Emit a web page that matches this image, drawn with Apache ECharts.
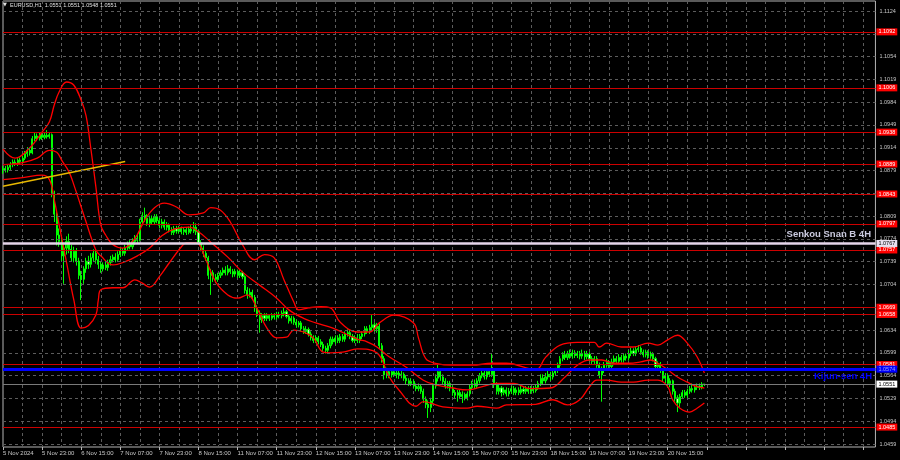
<!DOCTYPE html>
<html><head><meta charset="utf-8">
<script src="https://cdn.jsdelivr.net/npm/echarts@6/dist/echarts.min.js"></script>
<style>html,body{margin:0;padding:0;background:#000;}#c{width:900px;height:460px;}</style>
</head><body><div id="c"></div>
<script>
// ---- tick labels ----
const xTickLabels = ['5 Nov 2024','5 Nov 23:00','6 Nov 15:00','7 Nov 07:00','7 Nov 23:00','8 Nov 15:00',
  '11 Nov 07:00','11 Nov 23:00','12 Nov 15:00','13 Nov 07:00','13 Nov 23:00','14 Nov 15:00',
  '15 Nov 07:00','15 Nov 23:00','18 Nov 15:00','19 Nov 07:00','19 Nov 23:00','20 Nov 15:00'];
const yTickValues = [1.1124,1.1089,1.1054,1.1019,1.0984,1.0949,1.0914,1.0879,1.0844,1.0809,1.0774,
  1.0739,1.0704,1.0669,1.0634,1.0599,1.0564,1.0529,1.0494,1.0459];
// ---- horizontal levels ----
const redLevels = [1.1092,1.1006,1.0938,1.0889,1.0843,1.0797,1.0757,1.0669,1.0658,1.0581,1.0485];
const senkouB = 1.0767;
const kijun = 1.0574;
const lastPrice = 1.0551;
const titleText = 'EURUSD,H1  1.0551 1.0551 1.0548 1.0551';
// ---- H1 candles ----
const opens = [
1.0878,1.0882,1.0880,1.0884,1.0888,1.0892,1.0890,1.0895,1.0893,1.0898,
1.0905,1.0910,1.0906,1.0928,1.0932,1.0928,1.0934,1.0930,1.0933,1.0931,
1.0934,1.0842,1.0812,1.0780,1.0770,1.0748,1.0760,1.0770,1.0758,1.0745,
1.0755,1.0740,1.0718,1.0712,1.0728,1.0740,1.0735,1.0745,1.0752,1.0742,
1.0735,1.0728,1.0734,1.0730,1.0738,1.0742,1.0746,1.0742,1.0750,1.0756,
1.0752,1.0760,1.0766,1.0762,1.0770,1.0775,1.0772,1.0800,1.0810,1.0806,
1.0798,1.0805,1.0800,1.0808,1.0802,1.0795,1.0800,1.0792,1.0796,1.0788,
1.0784,1.0790,1.0786,1.0790,1.0785,1.0788,1.0784,1.0789,1.0786,1.0792,
1.0785,1.0768,1.0760,1.0752,1.0745,1.0718,1.0722,1.0715,1.0712,1.0718,
1.0722,1.0726,1.0722,1.0728,1.0724,1.0720,1.0724,1.0718,1.0722,1.0716,
1.0695,1.0688,1.0692,1.0684,1.0668,1.0660,1.0650,1.0656,1.0652,1.0656,
1.0652,1.0656,1.0654,1.0658,1.0656,1.0660,1.0662,1.0655,1.0648,1.0652,
1.0646,1.0642,1.0645,1.0636,1.0632,1.0635,1.0628,1.0622,1.0618,1.0622,
1.0616,1.0612,1.0606,1.0603,1.0610,1.0620,1.0616,1.0622,1.0618,1.0624,
1.0620,1.0628,1.0630,1.0624,1.0618,1.0622,1.0618,1.0624,1.0628,1.0636,
1.0632,1.0638,1.0642,1.0636,1.0640,1.0610,1.0590,1.0565,1.0570,1.0565,
1.0570,1.0566,1.0568,1.0564,1.0566,1.0560,1.0556,1.0552,1.0555,1.0548,
1.0544,1.0547,1.0540,1.0528,1.0520,1.0515,1.0525,1.0548,1.0560,1.0570,
1.0562,1.0555,1.0548,1.0552,1.0545,1.0538,1.0534,1.0538,1.0532,1.0535,
1.0530,1.0536,1.0546,1.0552,1.0548,1.0556,1.0564,1.0568,1.0562,1.0570,
1.0566,1.0572,1.0550,1.0540,1.0545,1.0538,1.0542,1.0536,1.0540,1.0544,
1.0538,1.0542,1.0538,1.0543,1.0540,1.0544,1.0540,1.0544,1.0541,1.0546,
1.0552,1.0560,1.0556,1.0562,1.0566,1.0562,1.0568,1.0572,1.0580,1.0590,
1.0596,1.0592,1.0598,1.0594,1.0599,1.0595,1.0598,1.0594,1.0598,1.0593,
1.0597,1.0590,1.0586,1.0590,1.0580,1.0565,1.0572,1.0580,1.0584,1.0578,
1.0585,1.0590,1.0586,1.0592,1.0588,1.0594,1.0591,1.0598,1.0602,1.0598,
1.0604,1.0606,1.0600,1.0596,1.0600,1.0594,1.0597,1.0590,1.0578,1.0582,
1.0572,1.0560,1.0564,1.0552,1.0556,1.0540,1.0530,1.0522,1.0532,1.0538,
1.0534,1.0540,1.0544,1.0542,1.0546,1.0548,1.0546,1.0551];
const closes = [
1.0882,1.0880,1.0884,1.0888,1.0892,1.0890,1.0895,1.0893,1.0898,1.0905,
1.0910,1.0906,1.0928,1.0932,1.0928,1.0934,1.0930,1.0933,1.0931,1.0934,
1.0842,1.0812,1.0780,1.0770,1.0748,1.0760,1.0770,1.0758,1.0745,1.0755,
1.0740,1.0718,1.0712,1.0728,1.0740,1.0735,1.0745,1.0752,1.0742,1.0735,
1.0728,1.0734,1.0730,1.0738,1.0742,1.0746,1.0742,1.0750,1.0756,1.0752,
1.0760,1.0766,1.0762,1.0770,1.0775,1.0772,1.0800,1.0810,1.0806,1.0798,
1.0805,1.0800,1.0808,1.0802,1.0795,1.0800,1.0792,1.0796,1.0788,1.0784,
1.0790,1.0786,1.0790,1.0785,1.0788,1.0784,1.0789,1.0786,1.0792,1.0785,
1.0768,1.0760,1.0752,1.0745,1.0718,1.0722,1.0715,1.0712,1.0718,1.0722,
1.0726,1.0722,1.0728,1.0724,1.0720,1.0724,1.0718,1.0722,1.0716,1.0695,
1.0688,1.0692,1.0684,1.0668,1.0660,1.0650,1.0656,1.0652,1.0656,1.0652,
1.0656,1.0654,1.0658,1.0656,1.0660,1.0662,1.0655,1.0648,1.0652,1.0646,
1.0642,1.0645,1.0636,1.0632,1.0635,1.0628,1.0622,1.0618,1.0622,1.0616,
1.0612,1.0606,1.0603,1.0610,1.0620,1.0616,1.0622,1.0618,1.0624,1.0620,
1.0628,1.0630,1.0624,1.0618,1.0622,1.0618,1.0624,1.0628,1.0636,1.0632,
1.0638,1.0642,1.0636,1.0640,1.0610,1.0590,1.0565,1.0570,1.0565,1.0570,
1.0566,1.0568,1.0564,1.0566,1.0560,1.0556,1.0552,1.0555,1.0548,1.0544,
1.0547,1.0540,1.0528,1.0520,1.0515,1.0525,1.0548,1.0560,1.0570,1.0562,
1.0555,1.0548,1.0552,1.0545,1.0538,1.0534,1.0538,1.0532,1.0535,1.0530,
1.0536,1.0546,1.0552,1.0548,1.0556,1.0564,1.0568,1.0562,1.0570,1.0566,
1.0572,1.0550,1.0540,1.0545,1.0538,1.0542,1.0536,1.0540,1.0544,1.0538,
1.0542,1.0538,1.0543,1.0540,1.0544,1.0540,1.0544,1.0541,1.0546,1.0552,
1.0560,1.0556,1.0562,1.0566,1.0562,1.0568,1.0572,1.0580,1.0590,1.0596,
1.0592,1.0598,1.0594,1.0599,1.0595,1.0598,1.0594,1.0598,1.0593,1.0597,
1.0590,1.0586,1.0590,1.0580,1.0565,1.0572,1.0580,1.0584,1.0578,1.0585,
1.0590,1.0586,1.0592,1.0588,1.0594,1.0591,1.0598,1.0602,1.0598,1.0604,
1.0606,1.0600,1.0596,1.0600,1.0594,1.0597,1.0590,1.0578,1.0582,1.0572,
1.0560,1.0564,1.0552,1.0556,1.0540,1.0530,1.0522,1.0532,1.0538,1.0534,
1.0540,1.0544,1.0542,1.0546,1.0548,1.0546,1.0551,1.0551];
const lows = [
1.0874,1.0876,1.0876,1.0880,1.0884,1.0886,1.0886,1.0889,1.0890,1.0895,
1.0900,1.0902,1.0904,1.0924,1.0924,1.0925,1.0926,1.0927,1.0928,1.0928,
1.0838,1.0800,1.0764,1.0762,1.0740,1.0705,1.0750,1.0752,1.0740,1.0738,
1.0733,1.0712,1.0680,1.0705,1.0722,1.0728,1.0730,1.0740,1.0736,1.0728,
1.0722,1.0724,1.0726,1.0725,1.0733,1.0738,1.0738,1.0740,1.0746,1.0748,
1.0748,1.0756,1.0758,1.0758,1.0765,1.0768,1.0770,1.0795,1.0800,1.0794,
1.0792,1.0796,1.0796,1.0798,1.0790,1.0790,1.0788,1.0787,1.0784,1.0780,
1.0780,1.0782,1.0782,1.0781,1.0780,1.0780,1.0781,1.0782,1.0783,1.0780,
1.0765,1.0755,1.0746,1.0740,1.0712,1.0688,1.0708,1.0706,1.0708,1.0714,
1.0718,1.0718,1.0718,1.0720,1.0715,1.0716,1.0714,1.0714,1.0712,1.0690,
1.0682,1.0684,1.0680,1.0662,1.0654,1.0630,1.0645,1.0648,1.0648,1.0648,
1.0649,1.0650,1.0650,1.0652,1.0652,1.0655,1.0652,1.0644,1.0644,1.0642,
1.0638,1.0638,1.0632,1.0628,1.0628,1.0624,1.0618,1.0614,1.0614,1.0612,
1.0608,1.0602,1.0598,1.0598,1.0606,1.0612,1.0612,1.0614,1.0614,1.0616,
1.0616,1.0624,1.0620,1.0615,1.0614,1.0614,1.0614,1.0620,1.0624,1.0628,
1.0628,1.0634,1.0632,1.0630,1.0605,1.0584,1.0558,1.0560,1.0560,1.0561,
1.0562,1.0560,1.0559,1.0560,1.0556,1.0550,1.0548,1.0548,1.0544,1.0540,
1.0540,1.0536,1.0522,1.0514,1.0499,1.0508,1.0520,1.0544,1.0555,1.0556,
1.0550,1.0544,1.0544,1.0540,1.0533,1.0528,1.0524,1.0528,1.0522,1.0526,
1.0526,1.0532,1.0542,1.0544,1.0544,1.0552,1.0560,1.0558,1.0558,1.0562,
1.0562,1.0545,1.0535,1.0535,1.0532,1.0534,1.0532,1.0532,1.0536,1.0534,
1.0534,1.0534,1.0535,1.0536,1.0536,1.0536,1.0536,1.0537,1.0538,1.0542,
1.0548,1.0550,1.0552,1.0558,1.0556,1.0558,1.0564,1.0568,1.0576,1.0586,
1.0588,1.0588,1.0590,1.0590,1.0591,1.0591,1.0589,1.0590,1.0588,1.0589,
1.0586,1.0582,1.0582,1.0576,1.0560,1.0524,1.0568,1.0576,1.0574,1.0574,
1.0580,1.0582,1.0582,1.0584,1.0584,1.0587,1.0587,1.0594,1.0594,1.0594,
1.0600,1.0596,1.0592,1.0592,1.0590,1.0590,1.0586,1.0574,1.0572,1.0568,
1.0555,1.0552,1.0548,1.0546,1.0535,1.0524,1.0508,1.0516,1.0528,1.0530,
1.0530,1.0536,1.0538,1.0538,1.0542,1.0542,1.0543,1.0548];
const highs = [
1.0886,1.0886,1.0888,1.0892,1.0896,1.0896,1.0898,1.0899,1.0902,1.0909,
1.0915,1.0914,1.0932,1.0938,1.0936,1.0938,1.0937,1.0938,1.0941,1.0938,
1.0936,1.0848,1.0818,1.0790,1.0778,1.0768,1.0778,1.0782,1.0765,1.0762,
1.0760,1.0745,1.0725,1.0732,1.0745,1.0748,1.0752,1.0758,1.0756,1.0748,
1.0740,1.0738,1.0740,1.0742,1.0748,1.0750,1.0752,1.0755,1.0762,1.0760,
1.0765,1.0770,1.0772,1.0775,1.0780,1.0782,1.0805,1.0815,1.0822,1.0812,
1.0810,1.0810,1.0812,1.0812,1.0806,1.0805,1.0804,1.0800,1.0798,1.0792,
1.0794,1.0794,1.0794,1.0793,1.0792,1.0792,1.0793,1.0795,1.0800,1.0798,
1.0788,1.0772,1.0764,1.0756,1.0748,1.0728,1.0726,1.0720,1.0722,1.0726,
1.0730,1.0732,1.0734,1.0732,1.0728,1.0728,1.0727,1.0726,1.0725,1.0718,
1.0700,1.0698,1.0696,1.0688,1.0672,1.0664,1.0660,1.0660,1.0660,1.0658,
1.0660,1.0660,1.0662,1.0662,1.0664,1.0668,1.0665,1.0658,1.0656,1.0655,
1.0650,1.0648,1.0648,1.0640,1.0640,1.0638,1.0632,1.0626,1.0626,1.0625,
1.0620,1.0616,1.0610,1.0614,1.0624,1.0624,1.0626,1.0626,1.0628,1.0628,
1.0632,1.0635,1.0634,1.0628,1.0626,1.0628,1.0628,1.0632,1.0640,1.0640,
1.0642,1.0657,1.0646,1.0645,1.0644,1.0614,1.0594,1.0576,1.0574,1.0574,
1.0574,1.0572,1.0572,1.0571,1.0569,1.0564,1.0560,1.0560,1.0558,1.0552,
1.0552,1.0550,1.0544,1.0532,1.0526,1.0530,1.0552,1.0566,1.0583,1.0575,
1.0566,1.0560,1.0556,1.0556,1.0549,1.0542,1.0542,1.0542,1.0540,1.0538,
1.0540,1.0550,1.0556,1.0558,1.0560,1.0568,1.0574,1.0572,1.0575,1.0574,
1.0598,1.0575,1.0554,1.0550,1.0548,1.0546,1.0546,1.0545,1.0548,1.0548,
1.0546,1.0546,1.0548,1.0547,1.0548,1.0548,1.0548,1.0548,1.0550,1.0556,
1.0566,1.0566,1.0568,1.0572,1.0570,1.0572,1.0576,1.0584,1.0594,1.0600,
1.0602,1.0602,1.0604,1.0604,1.0603,1.0602,1.0602,1.0604,1.0602,1.0602,
1.0600,1.0594,1.0594,1.0594,1.0584,1.0578,1.0585,1.0590,1.0588,1.0590,
1.0595,1.0594,1.0597,1.0596,1.0598,1.0598,1.0603,1.0607,1.0606,1.0608,
1.0611,1.0609,1.0604,1.0604,1.0603,1.0601,1.0600,1.0593,1.0586,1.0585,
1.0575,1.0568,1.0567,1.0560,1.0558,1.0544,1.0534,1.0536,1.0542,1.0542,
1.0544,1.0548,1.0552,1.0550,1.0552,1.0552,1.0554,1.0551];
// ---- Bollinger bands: [bar, price] ----
const bbUpper = [[0,1.0912],[5,1.0898],[11,1.0914],[16,1.0938],[19,1.0954],[21,1.0980],[23,1.1000],[26,1.1015],
 [29,1.1010],[32,1.0987],[34,1.0963],[36,1.0911],[38,1.0854],[40,1.0795],[42,1.0780],[45,1.0765],[49,1.0760],
 [54,1.0775],[58,1.0803],[62,1.0822],[66,1.0829],[71,1.0823],[76,1.0811],[82,1.0814],[85,1.0822],[89,1.0818],
 [93,1.0800],[98,1.0765],[103,1.0742],[107,1.0750],[111,1.0745],[115,1.0711],[119,1.0677],[121,1.0665],
 [125,1.0668],[130,1.0670],[134,1.0668],[138,1.0646],[145,1.0631],[150,1.0631],[154,1.0645],[160,1.0657],
 [168,1.0645],[170,1.0622],[173,1.0590],[177,1.0583],[184,1.0580],[192,1.0580],[200,1.0583],[206,1.0583],
 [218,1.0573],[222,1.0592],[228,1.0611],[235,1.0615],[242,1.0615],[244,1.0608],[247,1.0614],[253,1.0608],
 [258,1.0608],[264,1.0614],[268,1.0611],[272,1.0619],[276,1.0626],[280,1.0614],[284,1.0593],[287,1.0568]];
const bbMiddle = [[0,1.0888],[8,1.0891],[14,1.0898],[19,1.0910],[22,1.0907],[24,1.0895],[27,1.0877],[29,1.0857],
 [34,1.0800],[38,1.0757],[40,1.0748],[45,1.0734],[50,1.0739],[55,1.0748],[60,1.0760],[65,1.0779],[70,1.0789],
 [76,1.0792],[80,1.0785],[85,1.0769],[92,1.0746],[98,1.0723],[105,1.0703],[112,1.0683],[117,1.0665],
 [123,1.0652],[128,1.0645],[135,1.0637],[145,1.0620],[149,1.0616],[153,1.0608],[158,1.0593],[165,1.0577],
 [172,1.0557],[177,1.0550],[184,1.0545],[190,1.0542],[195,1.0546],[202,1.0552],[209,1.0552],[216,1.0544],
 [224,1.0545],[230,1.0562],[235,1.0580],[240,1.0588],[245,1.0588],[250,1.0583],[256,1.0583],[261,1.0585],
 [265,1.0588],[268,1.0583],[272,1.0573],[276,1.0562],[280,1.0554],[284,1.0547],[287,1.0545]];
const bbLower = [[0,1.0865],[8,1.0868],[16,1.0872],[19,1.0865],[21,1.0834],[23,1.0795],[26,1.0738],[29,1.0680],
 [32,1.0637],[35,1.0641],[38,1.0657],[39,1.0680],[40,1.0696],[45,1.0699],[49,1.0699],[54,1.0711],[57,1.0706],
 [60,1.0700],[64,1.0716],[68,1.0737],[73,1.0762],[75,1.0768],[79,1.0768],[83,1.0742],[87,1.0708],[92,1.0688],
 [96,1.0683],[100,1.0688],[104,1.0667],[108,1.0637],[112,1.0622],[116,1.0623],[119,1.0634],[123,1.0631],
 [127,1.0622],[131,1.0600],[134,1.0599],[139,1.0600],[145,1.0605],[153,1.0599],[158,1.0562],[162,1.0542],
 [169,1.0517],[172,1.0524],[180,1.0516],[190,1.0514],[194,1.0517],[202,1.0514],[206,1.0519],[218,1.0520],
 [225,1.0527],[231,1.0519],[236,1.0527],[240,1.0547],[243,1.0557],[247,1.0557],[253,1.0554],[258,1.0554],
 [264,1.0557],[268,1.0557],[272,1.0547],[274,1.0527],[277,1.0514],[281,1.0508],[284,1.0514],[287,1.0522]];
const trendLine = [[0,1.0855],[50,1.0893]];

// ---- build ----
const N_SLOTS = 358;
const cats = [];
for (let i = 0; i < N_SLOTS; i++) cats.push(String(i));
const candles = opens.map((o, i) => [o, closes[i], lows[i], highs[i]]);
const FONT = 'Liberation Sans';
const AX = '#c8c8c8';

function levelLine(val, lineColor, width, bg, fg) {
  return {
    yAxis: val,
    lineStyle: { color: lineColor, width: width, type: 'solid' },
    label: { show: true, position: 'end', distance: 1, formatter: val.toFixed(4),
      backgroundColor: bg, color: fg, fontSize: 5.5, fontFamily: FONT, padding: [1, 2, 0, 2] }
  };
}

const chart = echarts.init(document.getElementById('c'), null, { renderer: 'canvas' });
chart.setOption({
  backgroundColor: '#000',
  animation: false,
  grid: { left: 0.8, top: 1, width: 874.65, height: 446, show: true, borderColor: '#b4b4b4', borderWidth: 1,
    backgroundColor: 'transparent' },
  xAxis: {
    type: 'category', data: cats, boundaryGap: false,
    axisLine: { show: false },
    axisTick: { show: true, interval: 15, length: 3, lineStyle: { color: '#b4b4b4' } },
    axisLabel: { interval: 15, align: 'left', margin: 3, color: AX, fontSize: 6, fontFamily: FONT,
      formatter: (v, i) => (i % 16 === 0 && i / 16 < xTickLabels.length) ? xTickLabels[i / 16] : '' },
    splitLine: { show: true, interval: 7, lineStyle: { color: '#5c5c5c', type: [3, 3], width: 1 } }
  },
  yAxis: {
    type: 'value', min: 1.04544, max: 1.11394, position: 'right', scale: true,
    axisLine: { show: false }, axisTick: { show: false }, axisLabel: { show: false }, splitLine: { show: false }
  },
  graphic: [
    { type: 'text', left: 3, top: 2, z: 100, style: { text: '\u25BC', fill: '#e0e0e0', font: '5px "DejaVu Sans"' } },
    { type: 'text', left: 10, top: 2, z: 100, style: { text: titleText, fill: '#e0e0e0', font: '5.5px "Liberation Sans"' } },
    { type: 'text', right: 29, top: 229, z: 100, style: { text: 'Senkou Snan B 4H', fill: '#c9c9de',
      font: 'bold 9.5px "Liberation Sans"' } },
    { type: 'text', right: 28, top: 371, z: 100, style: { text: 'Kijun-sen 4H', fill: '#0000ff',
      font: 'bold 9.5px "Liberation Sans"' } }
  ],
  series: [
    { // grid lines + price scale
      type: 'line', data: [], z: 1, silent: true,
      markLine: { silent: true, symbol: ['none', 'none'], animation: false, precision: 5,
        lineStyle: { color: '#5c5c5c', type: [3, 3], width: 1 },
        label: { show: true, position: 'end', distance: 4, color: AX, fontSize: 5.5, fontFamily: FONT,
          formatter: p => Number(p.value).toFixed(4) },
        data: yTickValues.map(v => ({ yAxis: v })) }
    },
    {
      type: 'candlestick', data: candles, z: 2, barWidth: 1.6, silent: true,
      itemStyle: { color: '#00b000', color0: '#c8ffc8', borderColor: '#00ff00', borderColor0: '#00ff00', borderWidth: 1 }
    },
    { // horizontal levels
      type: 'line', data: [], z: 3, silent: true,
      markLine: { silent: true, symbol: ['none', 'none'], animation: false, precision: 5,
        data: redLevels.map(v => levelLine(v, '#cc0000', 1, '#ff0000', '#ffffff'))
          .concat([levelLine(senkouB, '#e6d6ea', 2.5, '#e8e0f0', '#000000'),
                   levelLine(kijun, '#0000ff', 3, '#0000ff', '#9aa0ff'),
                   levelLine(lastPrice, '#7a7a7a', 1, '#ffffff', '#000000')]) }
    },
    { type: 'line', data: bbUpper, z: 4, smooth: 0.4, showSymbol: false, silent: true, lineStyle: { color: '#ff0000', width: 1.3 } },
    { type: 'line', data: bbMiddle, z: 4, smooth: 0.4, showSymbol: false, silent: true, lineStyle: { color: '#ff0000', width: 1.3 } },
    { type: 'line', data: bbLower, z: 4, smooth: 0.4, showSymbol: false, silent: true, lineStyle: { color: '#ff0000', width: 1.3 } },
    { type: 'line', data: trendLine, z: 4, showSymbol: false, silent: true, lineStyle: { color: '#e8b800', width: 1.5 } }
  ]
});
</script>
</body></html>
